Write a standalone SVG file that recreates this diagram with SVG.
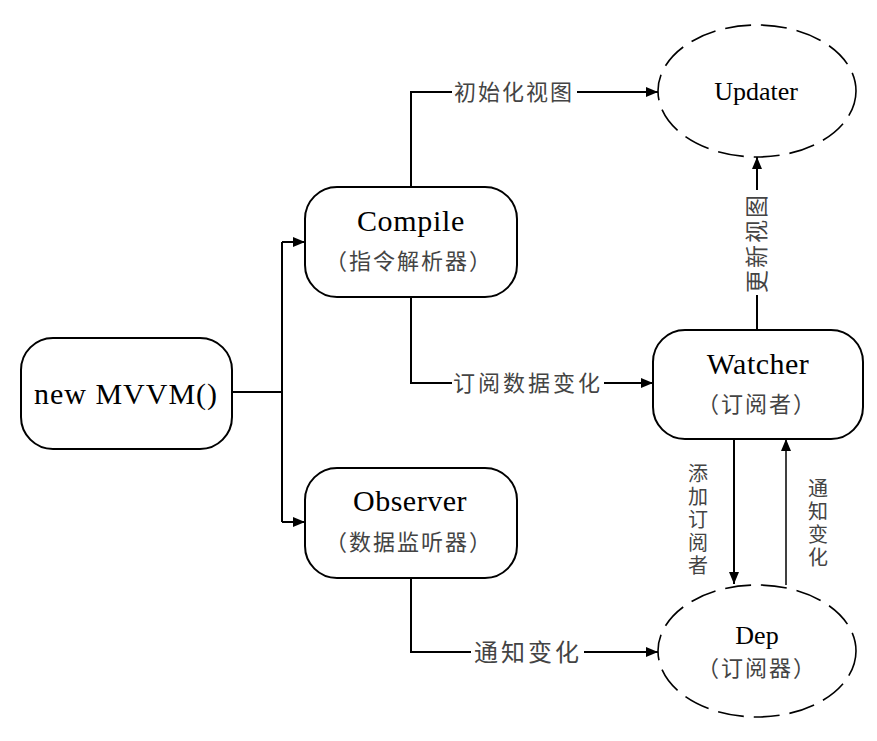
<svg xmlns="http://www.w3.org/2000/svg" width="877" height="741" viewBox="0 0 877 741">
<style>
.box{fill:#fff;stroke:#000;stroke-width:2}
.ell{fill:#fff;stroke:#000;stroke-width:1.6;stroke-dasharray:26 10}
.en{font-family:"Liberation Serif","Times New Roman",serif;fill:#000;text-anchor:middle}
.zh{font-family:"Noto Sans CJK SC","Noto Sans",sans-serif;fill:#444;text-anchor:middle}
.vt{font-family:"Noto Sans CJK SC","Noto Sans",sans-serif;fill:#444;writing-mode:vertical-rl;text-anchor:start}
.ln{fill:none;stroke:#000;stroke-width:2}
.thin{fill:none;stroke:#000;stroke-width:1.5}
</style>
<defs>
<marker id="ah" markerUnits="userSpaceOnUse" markerWidth="12" markerHeight="10" refX="12" refY="5" orient="auto">
<path d="M0,0 L12,5 L0,10 z" fill="#000"/>
</marker>
</defs>
<rect width="877" height="741" fill="#fff"/>
<g id="connectors">
<path class="ln" d="M232,392 H282 M282,242 V522"/>
<path class="ln" d="M282,242 H305" marker-end="url(#ah)"/>
<path class="ln" d="M282,522 H305" marker-end="url(#ah)"/>
<path class="ln" d="M411,187 V92 H452"/>
<path class="ln" d="M577,92 H658" marker-end="url(#ah)"/>
<text class="zh" x="514" y="100" font-size="22" letter-spacing="2">初始化视图</text>
<path class="ln" d="M411,297 V383 H452"/>
<path class="ln" d="M604,383 H653" marker-end="url(#ah)"/>
<text class="zh" x="528" y="391" font-size="22" letter-spacing="3">订阅数据变化</text>
<path class="ln" d="M411,578 V652 H471"/>
<path class="ln" d="M584,652 H658" marker-end="url(#ah)"/>
<text class="zh" x="528" y="661" font-size="24" letter-spacing="3">通知变化</text>
<path class="ln" d="M757,330 V295"/>
<path class="ln" d="M757,190 V157" marker-end="url(#ah)"/>
<text class="zh" transform="translate(765,243) rotate(-90)" x="0" y="0" font-size="23" letter-spacing="2">更新视图</text>
<path class="ln" d="M734,439 V584" marker-end="url(#ah)"/>
<path class="thin" d="M786,585 V439" marker-end="url(#ah)"/>
<text class="vt" x="698" y="463" font-size="20" letter-spacing="3">添加订阅者</text>
<text class="vt" x="818" y="478" font-size="20" letter-spacing="3">通知变化</text>
</g>
<g id="mvvm">
<rect class="box" x="21" y="338" width="211" height="111" rx="32"/>
<text class="en" x="126" y="404" font-size="30" letter-spacing="1">new MVVM()</text>
</g>
<g id="compile">
<rect class="box" x="305" y="187" width="212" height="110" rx="32"/>
<text class="en" x="411" y="231" font-size="30" letter-spacing="0.7">Compile</text>
<text class="zh" x="409" y="269" font-size="22" letter-spacing="2">（指令解析器）</text>
</g>
<g id="observer">
<rect class="box" x="305" y="468" width="212" height="110" rx="32"/>
<text class="en" x="410" y="511" font-size="30" letter-spacing="0.5">Observer</text>
<text class="zh" x="409" y="550" font-size="22" letter-spacing="2">（数据监听器）</text>
</g>
<g id="watcher">
<rect class="box" x="653" y="330" width="210" height="109" rx="32"/>
<text class="en" x="758" y="374" font-size="30" letter-spacing="0.5">Watcher</text>
<text class="zh" x="757" y="412" font-size="22" letter-spacing="2">（订阅者）</text>
</g>
<g id="updater">
<ellipse class="ell" cx="757" cy="91" rx="99" ry="66"/>
<text class="en" x="756" y="100" font-size="26">Updater</text>
</g>
<g id="dep">
<ellipse class="ell" cx="757" cy="651" rx="99" ry="66"/>
<text class="en" x="757" y="644" font-size="26">Dep</text>
<text class="zh" x="757" y="676" font-size="22" letter-spacing="2">（订阅器）</text>
</g>
</svg>
